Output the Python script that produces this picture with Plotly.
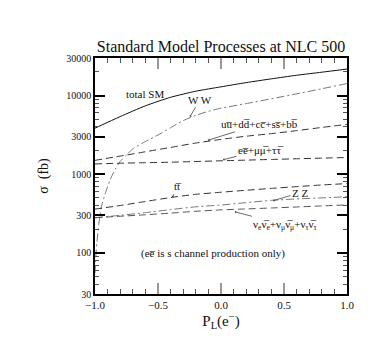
import numpy as np
import plotly.graph_objects as go

# polarisation grid and cross sections (fb)
pol = [-1.0, -0.8, -0.6, -0.4, -0.2, 0.0, 0.2, 0.4, 0.6, 0.8, 1.0]
total_sm = [3850, 5400, 7400, 9500, 11350, 12900, 14600, 16300, 18100, 19800, 21700]
uu_dd = [1500, 1700, 1930, 2190, 2490, 2770, 3040, 3280, 3580, 3930, 4300]
ee_mumu = [1350, 1380, 1400, 1420, 1450, 1480, 1510, 1540, 1570, 1600, 1630]
ttbar = [360, 400, 450, 505, 555, 590, 625, 660, 695, 730, 760]
zz = [280, 300, 325, 355, 385, 405, 435, 465, 485, 500, 517]
nunu = [280, 292, 305, 320, 338, 352, 362, 372, 383, 395, 408]

pol_ww = [-1.0, -0.99, -0.97, -0.95, -0.92, -0.88, -0.84, -0.8, -0.75, -0.7, -0.6,
          -0.5, -0.4, -0.3, -0.2, -0.1, 0.0, 0.2, 0.4, 0.6, 0.8, 1.0]
ww = [55, 110, 230, 380, 560, 850, 1150, 1450, 1750, 2100, 2600,
      3150, 3900, 4800, 5600, 6300, 6900, 7900, 9100, 10500, 12200, 14200]

x_ticks = [-1.0, -0.5, 0.0, 0.5, 1.0]
x_ticktext = ["\u22121.0", "\u22120.5", "0.0", "0.5", "1.0"]
x_minor = [-0.9, -0.8, -0.7, -0.6, -0.4, -0.3, -0.2, -0.1, 0.1, 0.2, 0.3, 0.4, 0.6, 0.7, 0.8, 0.9]
y_ticks = [30, 100, 300, 1000, 3000, 10000, 30000]
y_minor = [40, 50, 60, 70, 80, 90, 200, 400, 500, 600, 700, 800, 900,
           2000, 4000, 5000, 6000, 7000, 8000, 9000, 20000]

SERIF = "Liberation Serif"

fig = go.Figure()

def add_line(x, y, dash, color):
    fig.add_trace(go.Scatter(x=x, y=y, mode="lines",
                             line=dict(color=color, width=1, dash=dash, shape="spline", smoothing=0.6),
                             hoverinfo="skip", showlegend=False))

add_line(pol, total_sm, "solid", "#111")
add_line(pol_ww, ww, "8px,3px,2px,3px", "#777")
add_line(pol, uu_dd, "7px,4px", "#333")
add_line(pol, ee_mumu, "7px,4px", "#333")
add_line(pol, ttbar, "7px,4px", "#333")
add_line(pol, zz, "8px,3px,2px,3px", "#777")
add_line(pol, nunu, "7px,4px", "#555")

# labels with pointer arrows: (tip x, tip y, text, ax, ay)
labels = [
    (-0.246, 10**3.731, "W W", 10, -17),
    (-0.103, 10**3.432, "uu\u0305+dd\u0305+cc\u0305+ss\u0305+bb\u0305", 51, -16),
    (0.016, 10**3.183, "ee\u0305+\u03bc\u03bc\u0305+\u03c4\u03c4\u0305", 38, -10),
    (-0.387, 10**2.705, "tt\u0305", 6, -11),
    (0.413, 10**2.663, "Z Z", 27, -8),
    (0.109, 10**2.522, "\u03bd<sub>e</sub>\u03bd\u0305<sub>e</sub>+\u03bd<sub>\u03bc</sub>\u03bd\u0305<sub>\u03bc</sub>+\u03bd<sub>\u03c4</sub>\u03bd\u0305<sub>\u03c4</sub>", 50, 13),
]
for lx, ly, txt, ax, ay in labels:
    fig.add_annotation(x=lx, y=np.log10(ly), text=txt, showarrow=True, ax=ax, ay=ay,
                       arrowhead=1, arrowsize=0.6, arrowwidth=0.8, arrowcolor="#444",
                       font=dict(family=SERIF, size=11, color="#111"))

fig.add_annotation(x=-0.6, y=np.log10(10500), text="total SM", showarrow=False,
                   font=dict(family=SERIF, size=11, color="#111"))
fig.add_annotation(x=-0.063, y=np.log10(97), text="(ee\u0305 is s channel production only)",
                   showarrow=False, font=dict(family=SERIF, size=11, color="#111"))

fig.update_layout(
    width=388, height=346,
    margin=dict(l=87, r=49, t=50, b=60),
    paper_bgcolor="white", plot_bgcolor="white",
    title=dict(text="Standard Model Processes at NLC 500", xref="paper", x=0.5, xanchor="center",
               yref="paper", y=1.0, yanchor="bottom", pad=dict(b=6),
               font=dict(family=SERIF, size=16, color="#111")),
    font=dict(family=SERIF, color="#111"),
)
fig.update_xaxes(range=[-1, 1], tickvals=x_ticks, ticktext=x_ticktext,
                 ticks="inside", ticklen=11, tickwidth=1.5, tickcolor="#999",
                 showline=True, linecolor="black", linewidth=1.5, mirror="allticks",
                 minor=dict(tickvals=x_minor, ticks="inside", ticklen=5, tickcolor="#555", tickwidth=1),
                 showgrid=False, zeroline=False,
                 tickfont=dict(family=SERIF, size=11),
                 title=dict(text="P<sub>L</sub>(e<sup>\u2212</sup>)", font=dict(family=SERIF, size=15), standoff=0))
fig.update_yaxes(type="log", range=[np.log10(30), np.log10(30000)], tickvals=y_ticks,
                 ticktext=[str(v) for v in y_ticks],
                 ticks="inside", ticklen=10, tickwidth=2, tickcolor="black",
                 showline=True, linecolor="black", linewidth=1.5, mirror="allticks",
                 minor=dict(tickvals=y_minor, ticks="inside", ticklen=4, tickcolor="#555", tickwidth=1),
                 showgrid=False, zeroline=False,
                 tickfont=dict(family=SERIF, size=10),
                 title=dict(text="\u03c3  (fb)", font=dict(family=SERIF, size=14), standoff=14))

fig.write_html("out.html")
